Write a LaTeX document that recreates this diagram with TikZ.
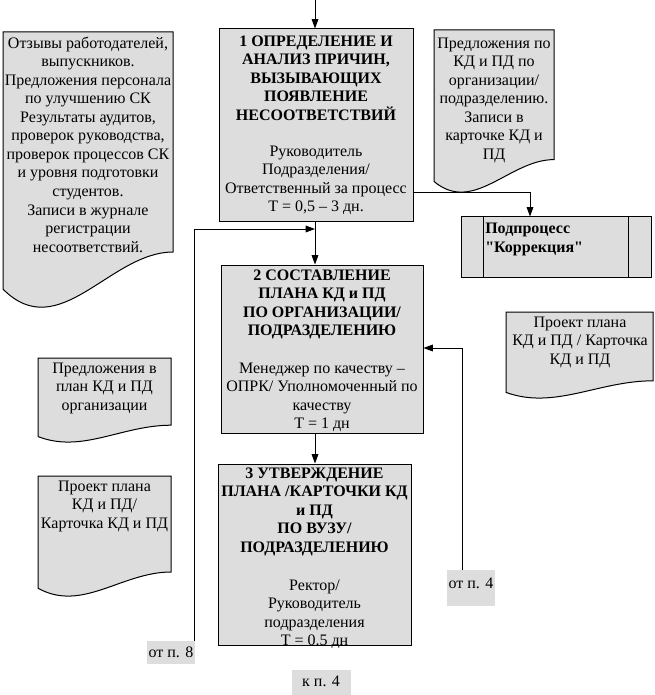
\documentclass[tikz,border=0pt]{standalone}
\usepackage{fontspec}
\setmainfont{Liberation Serif}[Ligatures=TeXOff]
\usetikzlibrary{arrows.meta,fit,calc}
\definecolor{boxgray}{RGB}{221,221,221}
\tikzset{
  procbox/.style={draw=black, fill=boxgray, line width=0.75pt, inner sep=0pt},
  docshape/.style={draw=black, fill=boxgray, line width=0.75pt},
  txt/.style={anchor=north, align=center, inner sep=0pt, font=\fontsize{12}{13.9}\selectfont},
  titletxt/.style={txt, font=\fontsize{12}{13.9}\selectfont\bfseries},
  tag/.style={fill=boxgray, inner sep=0pt},
  tagtxt/.style={inner sep=0pt, font=\fontsize{12}{13.9}\selectfont},
  arr/.style={line width=0.75pt, -{Triangle[length=7pt,width=5pt]}},
  plainline/.style={line width=0.75pt},
}
\newcommand{\mydocpath}[4]{%
  \path[docshape] (#1,#2) -- (#3,#2) -- (#3,{#2+0.8*(#4-#2)})
    .. controls ({#1+0.63*(#3-#1)},{#2+0.8*(#4-#2)}) and ({#1+0.33*(#3-#1)},{#2+1.14*(#4-#2)}) ..
    (#1,{#2+0.935*(#4-#2)}) -- cycle;}
\begin{document}
\begin{tikzpicture}[x=0.75pt,y=-0.75pt]
\useasboundingbox (0,0) rectangle (654,695);

% documents
\mydocpath{3}{32}{173}{307}
\node[txt] (dA) at (88,36.5) {Отзывы работодателей,\\выпускников.\\Предложения персонала\\по улучшению СК\\Результаты аудитов,\\проверок руководства,\\проверок процессов СК\\и уровня подготовки\\студентов.\\Записи в журнале\\регистрации\\несоответствий.};
\mydocpath{434}{30}{554}{192}
\node[txt] (dB) at (494,37.5) {Предложения по\\КД и ПД по\\организации/\\подразделению.\\Записи в\\карточке КД и\\ПД};
\mydocpath{38}{358}{171}{442}
\node[txt] (dC) at (104.5,362.5) {Предложения в\\план КД и ПД\\организации};
\mydocpath{38}{476}{171}{596}
\node[txt] (dD) at (104.5,480.5) {Проект плана\\КД и ПД/\\Карточка КД и ПД};
\mydocpath{506}{312}{653}{398}
\node[txt] (dE) at (580,316.5) {Проект плана\\КД и ПД / Карточка\\КД и ПД};

% process boxes
\node[procbox, fit={(219,29) (413,222)}] (b1) {};
\node[titletxt] (b1t) at (316,35.5) {1 ОПРЕДЕЛЕНИЕ И\\АНАЛИЗ ПРИЧИН,\\ВЫЗЫВАЮЩИХ\\ПОЯВЛЕНИЕ\\НЕСООТВЕТСТВИЙ};
\node[txt] (b1b) at (316,145.5) {Руководитель\\Подразделения/\\Ответственный за процесс\\Т = 0,5 – 3 дн.};

\node[procbox, fit={(221,265) (423,433)}] (b2) {};
\node[titletxt] (b2t) at (322,269.5) {2 СОСТАВЛЕНИЕ\\ПЛАНА КД и ПД\\ПО ОРГАНИЗАЦИИ/\\ПОДРАЗДЕЛЕНИЮ};
\node[txt] (b2b) at (322,362.5) {Менеджер по качеству –\\ОПРК/ Уполномоченный по\\качеству\\Т = 1 дн};

\node[procbox, fit={(218,464) (411,645)}] (b3) {};
\node[titletxt] (b3t) at (314.5,467.5) {3 УТВЕРЖДЕНИЕ\\ПЛАНА /КАРТОЧКИ КД\\и ПД\\ПО ВУЗУ/\\ПОДРАЗДЕЛЕНИЮ};
\node[txt] (b3b) at (314.5,579.5) {Ректор/\\Руководитель\\подразделения\\Т = 0.5 дн};

% subprocess
\node[procbox, fit={(461,217) (651,277)}] (sp) {};
\draw[plainline] ([xshift=17.25pt]sp.north west) -- ([xshift=17.25pt]sp.south west);
\draw[plainline] ([xshift=-17.25pt]sp.north east) -- ([xshift=-17.25pt]sp.south east);
\node[anchor=north west, align=left, inner sep=0pt, font=\fontsize{12}{13.9}\selectfont\bfseries] (spt) at (485,223) {Подпроцесс\\"Коррекция"};

% tags
\node[tag, fit={(147,641) (195,664)}] (l8) {};
\node[tagtxt] (l8t) at (171,652.5) {от п. 8};
\node[tag, fit={(447,570) (495,606)}] (l4) {};
\node[tagtxt] (l4t) at (471,583) {от п. 4};
\node[tag, fit={(292,670) (351,695)}] (k4) {};
\node[tagtxt] (k4t) at (321,681) {к п. 4};

% connectors
\coordinate (top) at (315,0);
\coordinate (j1) at (315,229);
\coordinate (k1) at (413,193);
\coordinate (k2) at (530,217);
\coordinate (m1) at (462,348);
\draw[arr] (top) -- (top |- b1.north);
\draw[arr] (top |- b1.south) -- (top |- b2.north);
\draw[arr] ([xshift=-0.5pt]l8.north east) |- (j1);
\draw[arr] (b1.east |- k1) -| (k2 |- sp.north);
\draw[arr] (m1 |- l4.north) |- (b2.east |- m1);
\draw[arr] (top |- b2.south) -- (top |- b3.north);
\end{tikzpicture}
\end{document}
